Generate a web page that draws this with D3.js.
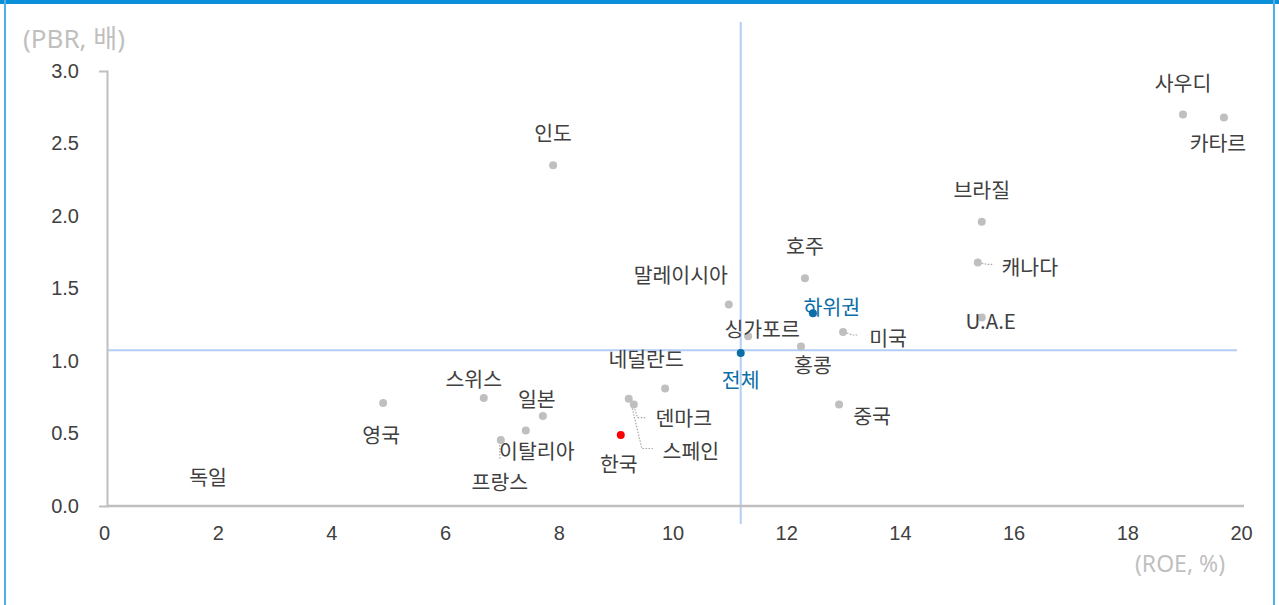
<!DOCTYPE html>
<html>
<head>
<meta charset="utf-8">
<script src="https://cdn.jsdelivr.net/npm/d3@7"></script>
<style>
  body { margin: 0; background: #fff; }
</style>
</head>
<body>
<div id="chart"></div>
<script>
// countries and values (ROE %, PBR x)
const countries = ["사우디", "카타르", "인도", "브라질", "캐나다", "호주", "말레이시아", "U.A.E", "미국",
  "싱가포르", "홍콩", "네덜란드", "스위스", "영국", "일본", "덴마크", "스페인", "이탈리아", "프랑스", "중국"];
const roe = [18.98, 19.70, 7.90, 15.44, 15.37, 12.33, 10.99, 15.44, 13.00,
  11.33, 12.26, 9.87, 6.68, 4.91, 7.72, 9.23, 9.32, 7.42, 6.98, 12.93];
const pbr = [2.70, 2.68, 2.35, 1.96, 1.68, 1.57, 1.39, 1.30, 1.20,
  1.17, 1.10, 0.81, 0.745, 0.71, 0.62, 0.74, 0.70, 0.52, 0.455, 0.70];

// highlighted groups
const groups = ["하위권", "전체"];
const groupRoe = [12.47, 11.2];
const groupPbr = [1.33, 1.055];

const korea = { name: "한국", roe: 9.09, pbr: 0.49 };
const germanyLabel = { name: "독일", roe: 1.83, pbr: 0.21 };

// reference lines (overall market)
const refRoe = 11.2;
const refPbr = 1.075;

const xTicks = [0, 2, 4, 6, 8, 10, 12, 14, 16, 18, 20];
const yTicks = [0, 0.5, 1.0, 1.5, 2.0, 2.5, 3.0];

// label placement (px offsets from the dot)
const labelPos = {
  "사우디": [0, -33], "카타르": [-6, 25], "인도": [0, -33], "브라질": [0, -33],
  "캐나다": [52, 4], "호주": [0, -33], "말레이시아": [-48, -30], "U.A.E": [9, 2],
  "미국": [45, 5], "싱가포르": [14, -8], "홍콩": [12, 17], "네덜란드": [-19, -31],
  "스위스": [-10, -20], "영국": [-2, 31], "일본": [-6, -18], "덴마크": [55, 18],
  "스페인": [57, 45], "이탈리아": [11, 19], "프랑스": [-1, 41], "중국": [33, 10],
  "하위권": [19, -7], "전체": [0, 26], "한국": [-2, 28]
};
// dotted leader lines (px offsets from the dot)
const leaders = {
  "캐나다": [[4, 1], [10, 2], [16, 2]],
  "미국": [[4, 1], [9, 3], [15, 3]],
  "덴마크": [[3, 2], [9, 19], [17, 19]],
  "스페인": [[-3, -2], [8, 44], [19, 44]],
  "프랑스": [[-1, 5], [-1, 20]]
};

const width = 1279;
const height = 605;

const x = d3.scaleLinear().domain([0, 20]).range([104, 1241]);
const y = d3.scaleLinear().domain([0, 3]).range([506, 71]);

const svg = d3.select("#chart")
  .append("svg")
  .attr("width", width)
  .attr("height", height)
  .attr("viewBox", [0, 0, width, height])
  .style("font-family", "'Noto Sans', 'Noto Sans CJK KR', sans-serif");

// frame
svg.append("rect").attr("x", 0).attr("y", 0).attr("width", width).attr("height", 4).attr("fill", "#0a8fd8");
svg.append("line").attr("x1", 5).attr("x2", 5).attr("y1", 0).attr("y2", height)
  .attr("stroke", "#4fb0e8").attr("stroke-width", 2);
svg.append("line").attr("x1", 1274).attr("x2", 1274).attr("y1", 0).attr("y2", height)
  .attr("stroke", "#4fb0e8").attr("stroke-width", 2);

// reference lines
svg.append("line")
  .attr("x1", x(refRoe)).attr("x2", x(refRoe))
  .attr("y1", 22).attr("y2", 524)
  .attr("stroke", "#b3cdf6").attr("stroke-width", 2);
svg.append("line")
  .attr("x1", 107).attr("x2", 1237)
  .attr("y1", y(refPbr)).attr("y2", y(refPbr))
  .attr("stroke", "#b3cdf6").attr("stroke-width", 2);

// axes
const yAxis = svg.append("g")
  .attr("transform", `translate(${x(0) + 3},0)`)
  .call(d3.axisLeft(y).tickValues(yTicks).tickFormat(d3.format(".1f")).tickSizeInner(0).tickSizeOuter(8).tickPadding(28));
yAxis.select(".domain").attr("stroke", "#bfbfbf").attr("stroke-width", 2);
yAxis.selectAll("text").attr("fill", "#404040").style("font-size", "20px");

const xAxis = svg.append("g")
  .attr("transform", `translate(0,${y(0)})`)
  .call(d3.axisBottom(x).tickValues(xTicks).tickSizeInner(0).tickSizeOuter(0).tickPadding(20));
xAxis.select(".domain").attr("stroke", "#bfbfbf").attr("stroke-width", 2.5)
  .attr("d", `M${x(0) + 3},0H${x(20) + 3}`);
xAxis.selectAll("text").attr("fill", "#404040").style("font-size", "20px");

// axis titles
svg.append("text").attr("x", 23).attr("y", 38).attr("dominant-baseline", "central")
  .attr("fill", "#bfbfbf").style("font-size", "26px").text("(PBR, 배)");
svg.append("text").attr("x", 1180).attr("y", 563).attr("text-anchor", "middle").attr("dominant-baseline", "central")
  .attr("fill", "#bfbfbf").style("font-size", "23px").text("(ROE, %)");

const points = countries.map((c, i) => ({ name: c, roe: roe[i], pbr: pbr[i] }));

// leaders
const leaderLine = d3.line();
Object.entries(leaders).forEach(([name, pts]) => {
  const p = points.find(d => d.name === name);
  svg.append("path")
    .attr("d", leaderLine(pts.map(o => [x(p.roe) + o[0], y(p.pbr) + o[1]])))
    .attr("fill", "none").attr("stroke", "#a6a6a6").attr("stroke-width", 1.2)
    .attr("stroke-dasharray", "1.5,1.5");
});

// country dots
svg.append("g").selectAll("circle").data(points).join("circle")
  .attr("cx", d => x(d.roe)).attr("cy", d => y(d.pbr)).attr("r", 4)
  .attr("fill", "#bfbfbf");

const labels = svg.append("g")
  .attr("text-anchor", "middle").attr("dominant-baseline", "central")
  .style("font-family", "'Noto Sans CJK KR', 'Noto Sans', sans-serif")
  .style("font-size", "20.5px");

labels.selectAll("text.c").data(points).join("text").attr("class", "c")
  .attr("x", d => x(d.roe) + labelPos[d.name][0])
  .attr("y", d => y(d.pbr) + labelPos[d.name][1])
  .attr("fill", "#404040")
  .text(d => d.name);

// groups
const groupPts = groups.map((g, i) => ({ name: g, roe: groupRoe[i], pbr: groupPbr[i] }));
svg.append("g").selectAll("circle").data(groupPts).join("circle")
  .attr("cx", d => x(d.roe)).attr("cy", d => y(d.pbr)).attr("r", 4)
  .attr("fill", "#0b6ea8");
labels.selectAll("text.g").data(groupPts).join("text").attr("class", "g")
  .attr("x", d => x(d.roe) + labelPos[d.name][0])
  .attr("y", d => y(d.pbr) + labelPos[d.name][1])
  .attr("fill", "#0b6ea8")
  .text(d => d.name);

// korea
svg.append("circle").attr("cx", x(korea.roe)).attr("cy", y(korea.pbr)).attr("r", 4).attr("fill", "#ff0000");
labels.append("text")
  .attr("x", x(korea.roe) + labelPos["한국"][0])
  .attr("y", y(korea.pbr) + labelPos["한국"][1])
  .attr("fill", "#404040").text(korea.name);

// germany (label only)
labels.append("text")
  .attr("x", x(germanyLabel.roe)).attr("y", y(germanyLabel.pbr))
  .attr("fill", "#404040").text(germanyLabel.name);
</script>
</body>
</html>
